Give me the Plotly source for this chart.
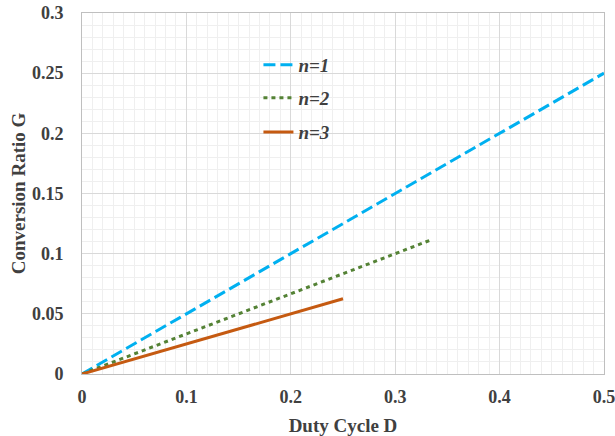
import plotly.graph_objects as go

series_names = ["n=1", "n=2", "n=3"]
d_values = [[0, 0.5], [0, 0.3333], [0, 0.25]]
g_values = [[0, 0.25], [0, 0.1111], [0, 0.0625]]
colors = ["#00B0F0", "#548235", "#C55A11"]
dashes = ["12px,5px", "4px,4px", "solid"]

x_ticks = [0, 0.1, 0.2, 0.3, 0.4, 0.5]
y_ticks = [0, 0.05, 0.1, 0.15, 0.2, 0.25, 0.3]
x_labels = ["0", "0.1", "0.2", "0.3", "0.4", "0.5"]
y_labels = ["0", "0.05", "0.1", "0.15", "0.2", "0.25", "0.3"]

legend_ids = ["legend", "legend2", "legend3"]
legend_y = [0.856, 0.765, 0.670]

font = "Liberation Serif, Times New Roman, serif"
text_color = "#404040"

fig = go.Figure()
for name, xs, ys, c, d, lg in zip(series_names, d_values, g_values, colors, dashes, legend_ids):
    fig.add_trace(go.Scatter(x=xs, y=ys, mode="lines", name=name, legend=lg,
                             showlegend=True,
                             line=dict(color=c, width=3, dash=d)))

axis_common = dict(
    showline=True, linecolor="#BFBFBF", linewidth=1, mirror=True,
    gridcolor="#D9D9D9", gridwidth=1, zeroline=False, ticks="",
    automargin=False, ticklabeloverflow="allow",
    tickfont=dict(family=font, size=18, color=text_color, weight="bold"),
    minor=dict(showgrid=True, gridcolor="#EFEFEF", gridwidth=1),
)
fig.update_xaxes(range=[0, 0.5], tickvals=x_ticks, ticktext=x_labels,
                 minor_dtick=0.01, ticklabelstandoff=6,
                 title=dict(text="<b>Duty Cycle D</b>", font=dict(family=font, size=19, color=text_color)),
                 **axis_common)
fig.update_yaxes(range=[0, 0.3], tickvals=y_ticks, ticktext=y_labels,
                 minor_dtick=0.01, ticklabelstandoff=14,
                 title=dict(text="<b>Conversion Ratio G</b>", font=dict(family=font, size=19, color=text_color),
                            standoff=1),
                 **axis_common)

legend_style = dict(xanchor="left", yanchor="middle", x=0.338, visible=True,
                    bgcolor="rgba(255,255,255,0)",
                    font=dict(family=font, size=19, style="italic", weight="bold", color=text_color))
fig.update_layout(
    width=615, height=436,
    margin=dict(l=82, r=11, t=13, b=62),
    plot_bgcolor="white", paper_bgcolor="white",
    font=dict(family=font),
    showlegend=True,
    legend=dict(y=legend_y[0], **legend_style),
    legend2=dict(y=legend_y[1], **legend_style),
    legend3=dict(y=legend_y[2], **legend_style),
)
fig.write_html("out.html", config={"displayModeBar": False},
               post_script="document.body.style.margin='0';document.body.style.overflow='hidden';")
